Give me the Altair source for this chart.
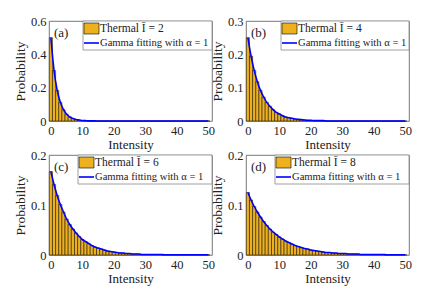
import altair as alt
import pandas as pd

# photon-number index (intensity) 0..50
intensity = list(range(51))

# bar heights (probability per intensity)
p_I2 = [0.500, 0.303, 0.184, 0.112, 0.068, 0.041, 0.025, 0.015, 0.009, 0.006,
        0.003, 0.002, 0.001, 0.001, 0.0005] + [0.0] * 36
p_I4 = [0.250, 0.195, 0.152, 0.118, 0.092, 0.072, 0.056, 0.044, 0.034, 0.026,
        0.021, 0.016, 0.012, 0.010, 0.008, 0.006, 0.005, 0.004, 0.003, 0.002,
        0.002, 0.001, 0.001, 0.001, 0.001] + [0.0] * 26
p_I6 = [0.167, 0.141, 0.119, 0.101, 0.086, 0.072, 0.061, 0.052, 0.044, 0.037,
        0.031, 0.027, 0.023, 0.019, 0.016, 0.014, 0.012, 0.010, 0.008, 0.007,
        0.006, 0.005, 0.004, 0.004, 0.003, 0.003, 0.002, 0.002, 0.002, 0.001,
        0.001, 0.001, 0.001, 0.001, 0.001, 0.001] + [0.0005] * 15
p_I8 = [0.125, 0.110, 0.097, 0.086, 0.076, 0.067, 0.059, 0.052, 0.046, 0.041,
        0.036, 0.032, 0.028, 0.025, 0.022, 0.019, 0.017, 0.015, 0.013, 0.012,
        0.010, 0.009, 0.008, 0.007, 0.006, 0.005, 0.005, 0.004, 0.004, 0.003,
        0.003, 0.003, 0.002, 0.002, 0.002, 0.002, 0.001, 0.001, 0.001, 0.001,
        0.001, 0.001, 0.001, 0.001] + [0.0005] * 7

# gamma fit (alpha = 1) curve values read at the same intensities
g_I2 = p_I2
g_I4 = p_I4
g_I6 = p_I6
g_I8 = p_I8

panels = [
    ("(a)", "2", p_I2, g_I2, 0.6, [0, 0.2, 0.4, 0.6]),
    ("(b)", "4", p_I4, g_I4, 0.3, [0, 0.1, 0.2, 0.3]),
    ("(c)", "6", p_I6, g_I6, 0.2, [0, 0.1, 0.2]),
    ("(d)", "8", p_I8, g_I8, 0.2, [0, 0.1, 0.2]),
]

W, H = 163, 100
FONT = "Liberation Serif"
BAR = "#EDB120"
BLUE = "#0000FF"
TXT = "#222222"


def panel(label, ibar, bars, fit, ymax, yticks, lg_left):
    df = pd.DataFrame({"n": intensity, "p": bars, "g": fit})
    xs = alt.Scale(domain=[-0.6, 51.2], nice=False, zero=False)
    ys = alt.Scale(domain=[0, ymax], nice=False)
    xax = alt.Axis(values=[0, 10, 20, 30, 40, 50], title="Intensity", grid=False,
                   ticks=False, domain=False, labelPadding=3, titlePadding=2,
                   labelOverlap=False, labelFlush=False,
                   labelFont=FONT, labelFontSize=12.5, labelColor=TXT,
                   titleFont=FONT, titleFontSize=13, titleFontWeight="normal", titleColor=TXT)
    yax = alt.Axis(values=yticks, title="Probability", grid=False, ticks=False,
                   domain=False, labelPadding=3, titlePadding=3,
                   labelOverlap=False, labelFlush=False,
                   labelFont=FONT, labelFontSize=12.5, labelColor=TXT,
                   titleFont=FONT, titleFontSize=13.5, titleFontWeight="normal", titleColor=TXT,
                   labelExpr="datum.value == 0 ? '0' : format(datum.value, '.1f')")
    base = alt.Chart(df).transform_calculate(lo="datum.n - 0.5", hi="datum.n + 0.5")
    b = base.mark_bar(fill=BAR, stroke="black", strokeWidth=0.5).encode(
        x=alt.X("lo:Q", scale=xs, axis=xax), x2="hi:Q",
        y=alt.Y("p:Q", scale=ys, axis=yax), y2=alt.datum(0))
    ln = alt.Chart(df).mark_line(color=BLUE, strokeWidth=1.6, interpolate="monotone").encode(
        x=alt.X("n:Q", scale=xs, axis=xax), y=alt.Y("g:Q", scale=ys, axis=yax))
    one = alt.Chart(pd.DataFrame({"k": [0]}))
    box = one.mark_rect(fill="white", stroke="#888", strokeWidth=0.8).encode(
        x=alt.value(lg_left), x2=alt.value(W), y=alt.value(0), y2=alt.value(29))
    sw = one.mark_rect(fill=BAR, stroke="black", strokeWidth=0.6).encode(
        x=alt.value(lg_left + 1), x2=alt.value(lg_left + 16), y=alt.value(2), y2=alt.value(13))
    lgline = one.mark_rule(color=BLUE, strokeWidth=1.6).encode(
        x=alt.value(lg_left + 1), x2=alt.value(lg_left + 16), y=alt.value(22))
    t1 = one.mark_text(align="left", baseline="middle", font=FONT, fontSize=11.5, color=TXT).encode(
        x=alt.value(lg_left + 17), y=alt.value(8), text=alt.value(f"Thermal Ī = {ibar}"))
    t2 = one.mark_text(align="left", baseline="middle", font=FONT, fontSize=10.6, color=TXT).encode(
        x=alt.value(lg_left + 17), y=alt.value(22), text=alt.value("Gamma fitting with α = 1"))
    lab = one.mark_text(align="left", baseline="middle", font=FONT, fontSize=13, color=TXT).encode(
        x=alt.value(5), y=alt.value(12), text=alt.value(label))
    return alt.layer(b, ln, lab, box, sw, lgline, t1, t2).properties(width=W, height=H)


charts = [panel(lbl, ib, bv, gv, ym, yt, lgl)
          for (lbl, ib, bv, gv, ym, yt), lgl in zip(panels, [34, 35, 29, 29])]

chart = alt.concat(*charts, columns=2, spacing=34, bounds="flush").properties(
    padding={"left": 4, "top": 6, "right": 0, "bottom": 0}
).configure_view(stroke="#555", strokeWidth=0.8)

chart.save("out.html", embed_options={"renderer": "svg", "actions": False})
